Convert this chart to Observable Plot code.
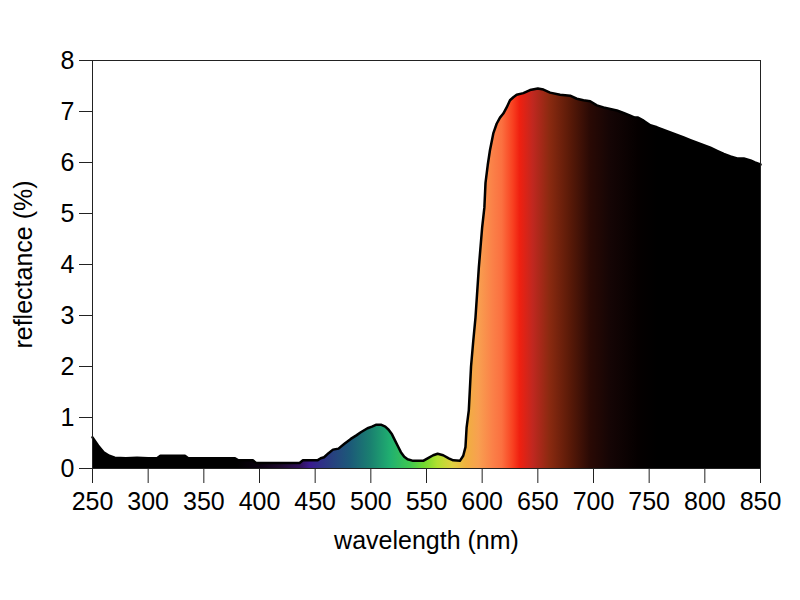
<!DOCTYPE html>
<html>
<head>
<meta charset="utf-8">
<script src="https://cdn.jsdelivr.net/npm/d3@7"></script>
<script src="https://cdn.jsdelivr.net/npm/@observablehq/plot@0.6"></script>
<style>
  html, body { margin: 0; padding: 0; background: #fff; }
  #chart svg { display: block; }
  #chart svg text { font-size: 25px !important; font-family: 'Liberation Sans', Arial, sans-serif; fill: #000; }
</style>
</head>
<body>
<div id="chart"></div>
<script>
const wavelengths = [250,255,260,265,270,280,290,300,308,311,333,336,378,381,394,397,436,439,452,455,458,462,466,471,476,482,487,491,497,501,505,509,513,516,519,521,524,527,530,533,538,547,551,556,560,565,570,574,580,583,585,586,588,590,592,594,597,600,602,603,605,607,610,613,616,619,622,625,628,631,637,643,650,655,661,670,679,685,691,697,703,709,715,721,727,733,737,740,745,751,757,763,769,775,781,787,793,799,805,811,817,823,829,835,841,845,850];
const reflectance = [0.61,0.45,0.32,0.25,0.21,0.2,0.21,0.2,0.2,0.25,0.25,0.2,0.2,0.16,0.16,0.11,0.11,0.16,0.16,0.2,0.22,0.3,0.37,0.39,0.48,0.58,0.65,0.71,0.79,0.82,0.86,0.86,0.82,0.76,0.67,0.58,0.45,0.32,0.23,0.18,0.15,0.15,0.2,0.26,0.29,0.26,0.2,0.16,0.15,0.25,0.42,0.8,1.14,2.0,2.5,2.96,3.94,4.73,5.12,5.6,5.95,6.24,6.57,6.76,6.88,6.96,7.08,7.22,7.28,7.33,7.36,7.42,7.45,7.43,7.37,7.33,7.31,7.25,7.22,7.2,7.12,7.08,7.05,7.02,6.97,6.92,6.88,6.88,6.82,6.73,6.69,6.64,6.59,6.54,6.49,6.44,6.39,6.34,6.29,6.23,6.17,6.12,6.08,6.08,6.04,6.0,5.96];

const stopWavelengths = [380,400,420,437,446,455,465,482,500,518,536,548,560,574,586,597,610,618,628,634,646,661,679,697,715,740,757];
const stopColors = ["#000000","#0a0010","#1e0a2e","#30105a","#3a1a90","#302e88","#283f80","#1c5a78","#1a8070","#20b070","#40c850","#70d830","#b0e030","#e0d040","#f0b040","#f8a050","#fb8048","#fb7040","#f84020","#f02010","#c02820","#8a2a10","#5a1a08","#2a0a05","#150505","#050000","#000000"];

const xTicks = [250,300,350,400,450,500,550,600,650,700,750,800,850];
const yTicks = [0,1,2,3,4,5,6,7,8];

const data = wavelengths.map((w, i) => ({w, r: reflectance[i]}));

const gradientMark = (index, scales) => {
  const ns = "http://www.w3.org/2000/svg";
  const defs = document.createElementNS(ns, "defs");
  const g = document.createElementNS(ns, "linearGradient");
  g.setAttribute("id", "spectrum");
  g.setAttribute("gradientUnits", "userSpaceOnUse");
  g.setAttribute("x1", scales.x(250));
  g.setAttribute("x2", scales.x(850));
  g.setAttribute("y1", 0);
  g.setAttribute("y2", 0);
  stopWavelengths.forEach((w, i) => {
    const s = document.createElementNS(ns, "stop");
    s.setAttribute("offset", (w - 250) / 600);
    s.setAttribute("stop-color", stopColors[i]);
    g.appendChild(s);
  });
  defs.appendChild(g);
  return defs;
};

const chart = Plot.plot({
  width: 800,
  height: 600,
  marginLeft: 92,
  marginRight: 40,
  marginTop: 60,
  marginBottom: 132,
  style: {fontFamily: "'Liberation Sans', Arial, sans-serif", fontSize: "25px", color: "#000", background: "#fff"},
  x: {domain: [250, 850]},
  y: {domain: [0, 8]},
  marks: [
    gradientMark,
    Plot.areaY(data, {x: "w", y: "r", fill: "url(#spectrum)", curve: "linear"}),
    Plot.lineY(data, {x: "w", y: "r", stroke: "#000", strokeWidth: 2.5, strokeLinejoin: "round"}),
    Plot.frame({stroke: "#222", strokeWidth: 1}),
    Plot.axisX({ticks: xTicks, tickSize: 15, tickPadding: 9, tickFormat: d => String(d), label: "wavelength (nm)", labelAnchor: "center", labelArrow: "none", labelOffset: 80, fontSize: 25, stroke: "#222"}),
    Plot.axisY({ticks: yTicks, tickSize: 13, tickPadding: 5, tickFormat: d => String(d), label: "reflectance (%)", labelAnchor: "center", labelArrow: "none", labelOffset: 78, fontSize: 25, stroke: "#222"})
  ]
});
document.getElementById("chart").appendChild(chart);
</script>
</body>
</html>
